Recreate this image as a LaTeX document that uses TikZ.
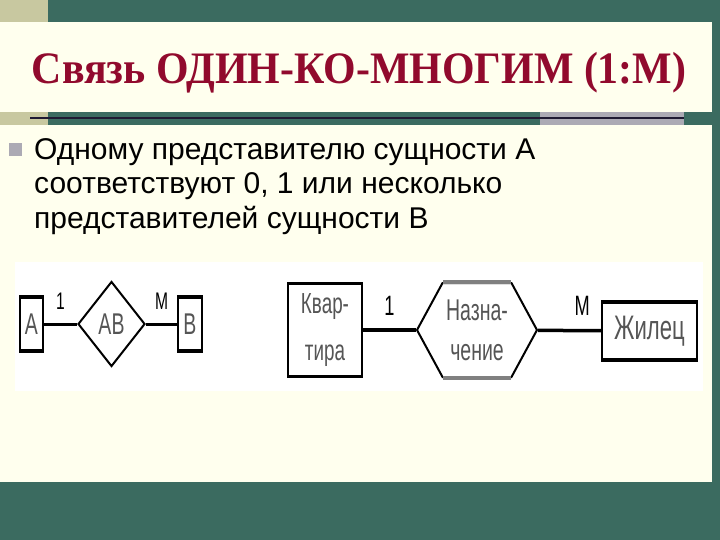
\documentclass[tikz,border=0pt]{standalone}
\usepackage{fontspec}
\usepackage{tikz}
\usetikzlibrary{shapes.geometric,shapes.symbols,calc,positioning}
\newfontfamily\titlefont[FakeStretch=0.93]{Liberation Serif}
\newfontfamily\bodyfont{Liberation Sans}
\newfontfamily\narrowfont[FakeStretch=0.65]{Liberation Sans}
\definecolor{slidegreen}{RGB}{59,107,96}
\definecolor{khaki}{RGB}{200,200,160}
\definecolor{cream}{RGB}{255,255,238}
\definecolor{bandgray}{RGB}{172,170,180}
\definecolor{navy}{RGB}{30,25,50}
\definecolor{titlered}{RGB}{145,10,45}
\definecolor{textgray}{RGB}{85,85,85}

\begin{document}
\begin{tikzpicture}[x=1pt, y=-1pt,
    entbox/.style={rectangle, draw=black, line width=2.5pt, fill=white, inner sep=0pt, align=center, text=textgray},
    barbox/.style={entbox, line width=1.5pt},
    relbox/.style={diamond, draw=black, line width=2pt, fill=white, inner sep=0pt, text=textgray},
    hexbox/.style={signal, signal to=east and west, signal pointer angle=123, draw=black, line width=2pt, fill=white, inner sep=0pt, align=center, text=textgray, minimum width=120, minimum height=94},
    conn/.style={line width=3.5pt, black},
    bar/.style={line width=4pt, black},
    card/.style={font=\narrowfont\fontsize{28}{30}\selectfont, inner sep=1pt},
  ]
    % Slide background
    \useasboundingbox (0,0) rectangle (720,540);
    \fill[slidegreen] (0,0) rectangle (720,540);
    \fill[khaki] (0,0) rectangle (48,22);
    \fill[cream] (0,22) rectangle (712,112);
    \fill[khaki] (0,112) rectangle (48,125);
    \fill[bandgray] (540,112) rectangle (684,125);
    \draw[navy, line width=2pt] (30,118) -- (684,118);
    \fill[cream] (0,125) rectangle (712,482);
    \fill[white] (15,262) rectangle (703,391);

    % Title
    \node[anchor=base, text=titlered, font=\titlefont\bfseries\fontsize{45}{50}\selectfont] (title) at (359,84) {Связь ОДИН-КО-МНОГИМ (1:М)};

    % Bullet
    \fill[bandgray] (9,143) rectangle (22,156);
    \node[anchor=north west, align=left, inner sep=0pt, font=\bodyfont\fontsize{30}{34.5}\selectfont] (txt) at (34,138) {Одному представителю сущности А\\соответствуют 0, 1 или несколько\\представителей сущности В};

    % Small diagram
    \node[barbox, minimum width=23, minimum height=52, font=\narrowfont\fontsize{30}{30}\selectfont] (a) at (31.5,324) {А};
    \node[relbox, minimum width=67, minimum height=85, font=\narrowfont\fontsize{30}{30}\selectfont] (ab) at (111.5,324) {АВ};
    \node[barbox, minimum width=24, minimum height=52, font=\narrowfont\fontsize{30}{30}\selectfont] (b) at (190,324) {В};
    \draw[conn, line width=3pt] (a) -- node[card, above=12pt, font=\narrowfont\fontsize{24}{24}\selectfont] {1} (ab);
    \draw[conn, line width=3pt] (ab) -- node[card, above=12pt, font=\narrowfont\fontsize{24}{24}\selectfont] {M} (b);

    % Large diagram
    \node[entbox, minimum width=74, minimum height=93, font=\narrowfont\fontsize{29}{47}\selectfont] (kv) at (325,330) {Квар-\\тира};
    \node[hexbox, font=\narrowfont\fontsize{30}{40}\selectfont] (nz) at (477,330) {Назна-\\чение};
    \node[barbox, minimum width=95, minimum height=57, font=\narrowfont\fontsize{34}{34}\selectfont] (zh) at (649.5,331) {Жилец};
    \draw[conn] (kv) -- node[card, above=12pt] {1} (nz);
    \draw[conn] (nz) -- node[card, above=12pt, pos=0.7] {M} (zh);

    % Heavy edges
    \foreach \n in {a,b,zh}
      \draw[bar] (\n.north west) -- (\n.north east) (\n.south west) -- (\n.south east);
    \draw[line width=4pt, gray] ($(nz.north)+(-34,0)$) -- ($(nz.north)+(34,0)$)
      ($(nz.south)+(-34,0)$) -- ($(nz.south)+(34,0)$);
\end{tikzpicture}
\end{document}
